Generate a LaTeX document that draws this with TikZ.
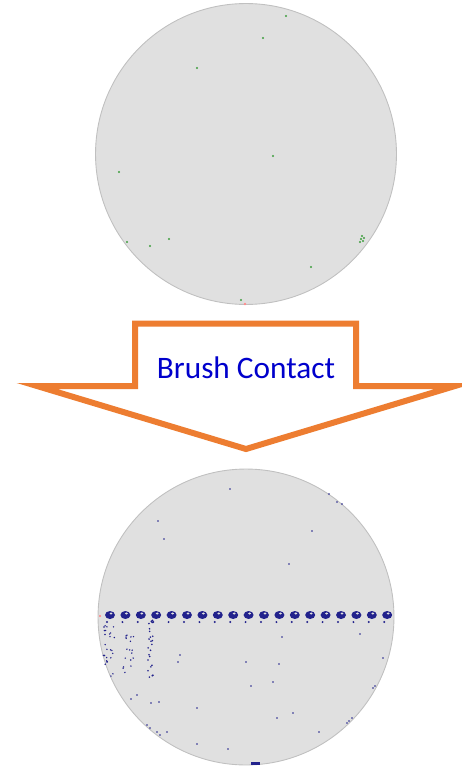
\documentclass[tikz,border=0pt]{standalone}
\usepackage{fontspec}
\setmainfont{Carlito}
\usetikzlibrary{positioning}

\definecolor{arroworange}{HTML}{ED7D31}
\definecolor{labelblue}{HTML}{0000CC}
\definecolor{wafergray}{HTML}{E0E0E0}
\definecolor{rimgray}{HTML}{C0C0C0}
\definecolor{spotgreen}{HTML}{3E9E3E}
\definecolor{spotblue}{HTML}{22228C}

\begin{document}
\begin{tikzpicture}[
  x=0.02cm,y=-0.02cm,
  wafer/.style={circle,draw=rimgray,line width=0.5pt,fill=wafergray,inner sep=0pt},
  bigarrow/.style={draw=arroworange,line width=0.12cm,fill=white,line join=miter},
  lbl/.style={font=\fontsize{17.8pt}{20pt}\selectfont,text=labelblue},
  gspot/.style={fill=spotgreen},
  bspot/.style={fill=spotblue}
]
\useasboundingbox (0,0) rectangle (461,770);

% wafer before contact
\node[wafer,minimum size=6.02cm] (before) at (246,154) {};
\foreach \p in {(286,16),(263,38),(197,68),(273,156),(119,172),(127,242),(150,246),(169,239),(311,267),(241,300),
                (362,236),(361,239),(363,241),(364,238),(360,242)}
  \fill[gspot] \p circle (1.1);
\fill[red!45] (245,304) circle (1.3);

% block arrow
\draw[bigarrow] (135,323.5) -- (356,323.5) -- (356,386) -- (455,386) -- (246,449)
  -- (37,386) -- (135,386) -- cycle;
\node[lbl] (contact) at (246,368) {Brush Contact};

% wafer after contact
\node[wafer,minimum size=5.92cm] (after) at (246,617) {};
% row of brush marks
\foreach \k in {0,...,18}{
  \pgfmathsetmacro\bx{110+15.4*\k}
  \fill[bspot] (\bx,615) ellipse (5 and 4);
  \fill[wafergray] (\bx+1,613.5) ellipse (1.5 and 1.1);
  \fill[bspot] (\bx-3,622) circle (1.1);
}
\fill[red!50] (100,616) circle (1.2);
% streaks under the first marks
\pgfmathsetseed{11}
\foreach \i in {1,...,26}{
  \pgfmathsetmacro\px{103+12*rnd}
  \pgfmathsetmacro\py{623+56*rnd}
  \fill[bspot] (\px,\py) circle (0.8);
}
\foreach \i in {1,...,18}{
  \pgfmathsetmacro\px{123+13*rnd}
  \pgfmathsetmacro\py{625+52*rnd}
  \fill[bspot] (\px,\py) circle (0.8);
}
\foreach \i in {1,...,24}{
  \pgfmathsetmacro\px{148+5*rnd}
  \pgfmathsetmacro\py{620+58*rnd}
  \fill[bspot] (\px,\py) circle (0.9);
}
% scattered spots
\foreach \p in {(230,489),(329,494),(337,502),(342,504),(158,521),(164,539),(312,531),(289,564),
                (282,637),(360,634),(180,655),(178,662),(246,662),(279,664),(383,658),(273,682),
                (251,686),(373,688),(375,686),(131,699),(137,695),(159,702),(151,703),(197,708),
                (293,713),(277,718),(352,718),(349,721),(347,723),(147,725),(150,728),(157,732),
                (160,735),(167,732),(319,732),(197,744),(228,749)}
  \fill[bspot] \p circle (0.9);
\fill[bspot] (251,762) rectangle (260,765);
\end{tikzpicture}
\end{document}
